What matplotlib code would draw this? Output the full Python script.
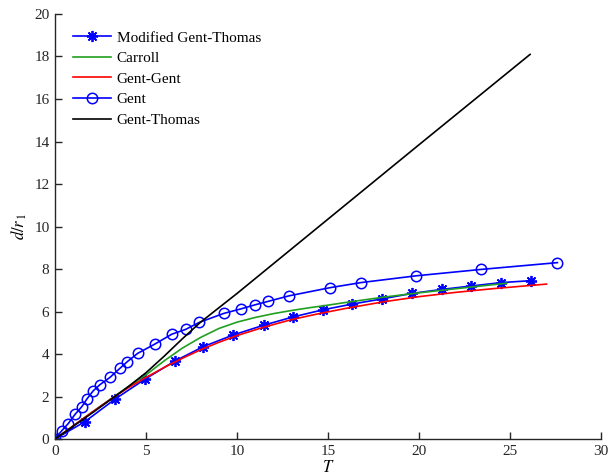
import matplotlib
matplotlib.use("Agg")
import matplotlib.pyplot as plt

plt.rcParams['font.family'] = ['Liberation Serif', 'DejaVu Serif']
plt.rcParams['mathtext.fontset'] = 'stix'

# Modified Gent-Thomas (stars)
mgt_T = [0, 1.65, 3.3, 4.95, 6.59, 8.15, 9.8, 11.48, 13.1, 14.72, 16.32, 17.95,
         19.6, 21.25, 22.86, 24.5, 26.13]
mgt_y = [0, 0.82, 1.88, 2.82, 3.67, 4.35, 4.9, 5.36, 5.75, 6.08, 6.35, 6.59,
         6.85, 7.04, 7.2, 7.36, 7.45]

# Carroll
car_T = [0, 1, 2, 3, 4, 5, 6, 7, 8, 9, 10, 11, 12, 13, 14, 15, 16, 18, 20, 22, 24.8]
car_y = [0, 0.62, 1.24, 1.85, 2.45, 3.02, 3.68, 4.28, 4.78, 5.2, 5.5, 5.72, 5.9,
         6.05, 6.18, 6.3, 6.43, 6.67, 6.88, 7.07, 7.33]

# Gent-Gent
gg_T = [0, 1, 2, 3, 4, 5, 6, 7, 8, 9, 10, 11.5, 13, 14.5, 16, 18, 20, 22, 24, 27]
gg_y = [0, 0.62, 1.24, 1.84, 2.4, 2.9, 3.37, 3.8, 4.2, 4.55, 4.87, 5.27, 5.62,
        5.9, 6.15, 6.45, 6.7, 6.9, 7.07, 7.29]

# Gent (circles)
g_T = [0, 0.37, 0.73, 1.1, 1.47, 1.74, 2.1, 2.47, 3.02, 3.57, 3.97, 4.54, 5.49,
       6.41, 7.18, 7.93, 9.27, 10.2, 10.97, 11.72, 12.87, 15.1, 16.8, 19.84, 23.4, 27.6]
g_y = [0, 0.39, 0.73, 1.16, 1.52, 1.87, 2.27, 2.56, 2.9, 3.33, 3.64, 4.03, 4.47,
       4.93, 5.16, 5.49, 5.91, 6.12, 6.31, 6.48, 6.74, 7.12, 7.36, 7.68, 7.98, 8.3]

# Gent-Thomas
gt_T = [0, 1, 2, 3, 4, 5, 6, 7, 8, 10, 12, 15, 20, 26.1]
gt_y = [0, 0.6, 1.2, 1.82, 2.45, 3.12, 3.9, 4.72, 5.5, 6.85, 8.25, 10.35, 13.85, 18.1]

labels = ['Modified Gent-Thomas', 'Carroll', 'Gent-Gent', 'Gent', 'Gent-Thomas']

fig = plt.figure(figsize=(6.14, 4.76), dpi=100)
ax = fig.add_axes([0.0896, 0.0777, 0.8894, 0.8929])

lw = 1.2
ax.plot(mgt_T, mgt_y, color='#0000ff', lw=lw, marker=(8, 2, 0), ms=8, mew=1.3,
        label=labels[0])
ax.plot(car_T, car_y, color='#20a020', lw=lw, label=labels[1])
ax.plot(gg_T, gg_y, color='#ff0000', lw=lw, label=labels[2])
ax.plot(g_T, g_y, color='#0000ff', lw=lw, marker='o', ms=7.5, mfc='none', mew=1.1,
        label=labels[3])
ax.plot(gt_T, gt_y, color='#000000', lw=lw, label=labels[4])

ax.set_xlim(0, 30)
ax.set_ylim(0, 20)
ax.set_xticks(range(0, 31, 5))
ax.set_yticks(range(0, 21, 2))
ax.spines['top'].set_visible(False)
ax.spines['right'].set_visible(False)
for s in ('left', 'bottom'):
    ax.spines[s].set_linewidth(1.0)
    ax.spines[s].set_color('#262626')
ax.tick_params(direction='in', length=5, width=1.0, labelsize=11, colors='#262626',
               labelcolor='#262626', pad=4)

ax.set_xlabel('$T$', fontsize=12, labelpad=2)
ax.set_ylabel('$d/r_{\\,1}$', fontsize=12, labelpad=4)

leg = ax.legend(loc='upper left', bbox_to_anchor=(0.033, 0.96), frameon=False,
                fontsize=11, handlelength=2.5, handletextpad=0.35, labelspacing=0.45,
                borderpad=0, borderaxespad=0)

fig.savefig('out.png', dpi=100)
